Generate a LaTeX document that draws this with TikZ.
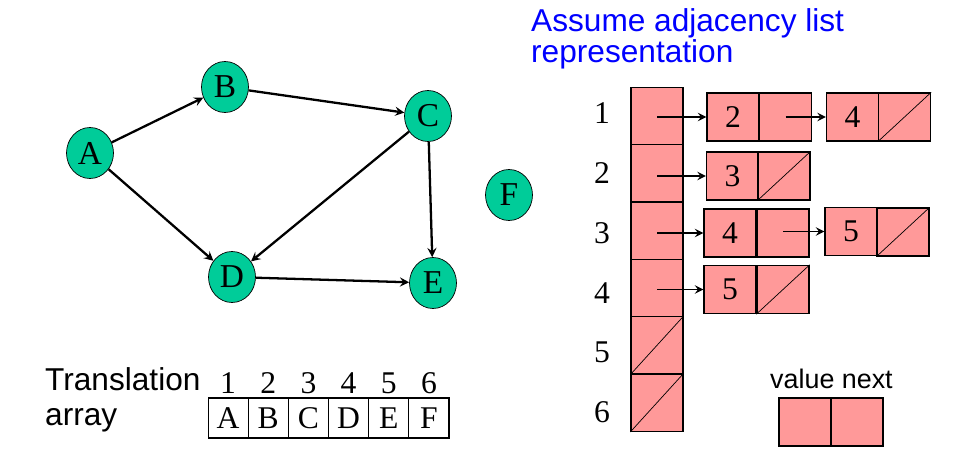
\documentclass[tikz,border=0pt]{standalone}
\usepackage{fontspec}
\setmainfont{Liberation Serif}
\setsansfont{Liberation Sans}
\usetikzlibrary{shapes.geometric}
\definecolor{vgreen}{RGB}{0,204,153}
\definecolor{lpink}{RGB}{255,153,153}
\definecolor{tblue}{RGB}{0,0,255}
\begin{document}
\begin{tikzpicture}[>=stealth, x=0.02cm, y=-0.02cm,
  vertex/.style={draw, ellipse, fill=vgreen, minimum width=0.94cm, minimum height=1.02cm, inner sep=0pt, font=\fontsize{19}{19}\selectfont},
  edge/.style={->, line width=1.3pt},
  acell/.style={draw, fill=lpink, line width=0.8pt, minimum width=1.04cm, minimum height=1.146cm, inner sep=0pt},
  lcell/.style={draw, fill=lpink, line width=0.8pt, minimum width=1.04cm, minimum height=0.96cm, inner sep=0pt, font=\fontsize{18}{18}\selectfont},
  tcell/.style={draw, line width=0.6pt, minimum width=0.803cm, minimum height=0.8cm, inner sep=0pt, font=\fontsize{18}{18}\selectfont},
  sans/.style={anchor=base west, font=\sffamily\fontsize{18}{18}\selectfont},
  ptr/.style={->, line width=1.1pt},
  nil/.style={thin}]
\useasboundingbox (0,0) rectangle (968,466);

% graph
\node[vertex] (A) at (90,153) {A};
\node[vertex] (B) at (225,87) {B};
\node[vertex] (C) at (428,116) {C};
\node[vertex] (D) at (232,277) {D};
\node[vertex] (E) at (433,283) {E};
\node[vertex] (F) at (509,195) {F};

\draw[edge] (A) -- (B);
\draw[edge] (B) -- (C);
\draw[edge] (A) -- (D);
\draw[edge] (C) -- (D);
\draw[edge] (C) -- (E);
\draw[edge] (D) -- (E);

% translation array
\node[sans] (trans1) at (39,390) {Translation};
\node[sans] (trans2) at (39,425) {array};
\foreach \i/\v in {1/A,2/B,3/C,4/D,5/E,6/F} {
  \node[tcell] (t\i) at (228.1+40.17*\i-40.17,418) {\v};
  \node[anchor=base, font=\fontsize{18}{18}\selectfont] (tn\i) at (228.1+40.17*\i-40.17,393) {\i};
}

% adjacency list
\node[sans, text=tblue] (title1) at (525,32) {Assume adjacency list};
\node[sans, text=tblue] (title2) at (525,63) {representation};

\foreach \i in {1,...,6} {
  \node[acell] (h\i) at (657,58.67+57.33*\i) {};
  \node[font=\fontsize{18}{18}\selectfont] (hn\i) at (602,53.6+59.8*\i) {\i};
}
\draw[nil] (h5.south west) -- (h5.north east);
\draw[nil] (h6.south west) -- (h6.north east);

\node[lcell] (r1a) at (733,117) {2};
\node[lcell] (r1an) at (785.5,117) {};
\node[lcell] (r1b) at (852.5,117) {4};
\node[lcell] (r1bn) at (904.5,117) {};
\draw[nil] (r1bn.south west) -- (r1bn.north east);

\node[lcell] (r2a) at (732.5,176) {3};
\node[lcell] (r2an) at (784,176) {};
\draw[nil] (r2an.south west) -- (r2an.north east);

\node[lcell] (r3a) at (730,233) {4};
\node[lcell] (r3an) at (783,233) {};
\node[lcell] (r3b) at (851,231.5) {5};
\node[lcell] (r3bn) at (903,232) {};
\draw[nil] (r3bn.south west) -- (r3bn.north east);

\node[lcell] (r4a) at (730,289.5) {5};
\node[lcell] (r4an) at (783,289.5) {};
\draw[nil] (r4an.south west) -- (r4an.north east);

\draw[ptr] (h1.center |- r1a.west) -- (r1a.west);
\draw[ptr] (r1an.center |- r1b.west) -- (r1b.west);
\draw[ptr] (h2.center |- r2a.west) -- (r2a.west);
\draw[ptr] (h3.center |- r3a.west) -- (r3a.west);
\draw[ptr] (r3an.center |- r3b.west) -- (r3b.west);
\draw[ptr] (h4.center |- r4a.west) -- (r4a.west);

% legend
\node[anchor=base west, font=\sffamily\fontsize{15.3}{16}\selectfont] (legend) at (764,388) {value next};
\node[lcell] (lv) at (805,422) {};
\node[lcell] (ln) at (857,422) {};
\end{tikzpicture}
\end{document}
